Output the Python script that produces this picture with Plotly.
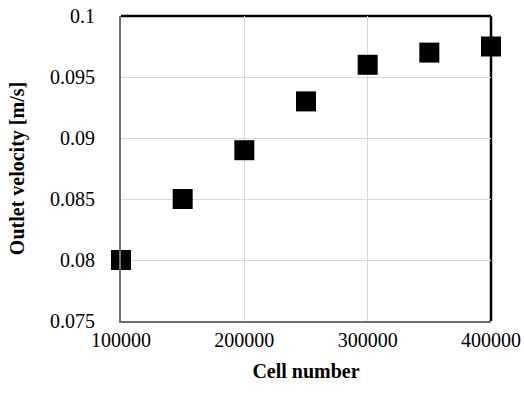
import plotly.graph_objects as go

cells = [100000, 150000, 200000, 250000, 300000, 350000, 400000]
velocity = [0.080, 0.085, 0.089, 0.093, 0.096, 0.097, 0.0975]
x_ticks = [100000, 200000, 300000, 400000]
y_ticks = [0.075, 0.08, 0.085, 0.09, 0.095, 0.1]
y_labels = ["0.075", "0.08", "0.085", "0.09", "0.095", "0.1"]

font = "Liberation Serif"

fig = go.Figure()
fig.add_trace(go.Scatter(
    x=cells, y=velocity, mode="markers",
    marker=dict(symbol="square", size=20, color="black"),
    cliponaxis=False, showlegend=False,
))

fig.update_layout(
    width=524, height=403,
    margin=dict(l=121, r=33, t=16, b=82),
    paper_bgcolor="white", plot_bgcolor="white",
    font=dict(family=font, size=20, color="black"),
    xaxis=dict(
        range=[100000, 400000], tickvals=x_ticks, ticktext=[str(v) for v in x_ticks],
        showgrid=True, gridcolor="#d9d9d9", gridwidth=1,
        showline=True, linecolor="#6e6e6e", linewidth=2,
        zeroline=False, ticks="", ticklen=0, ticklabelstandoff=0,
        automargin=False,
        tickfont=dict(family=font, size=20, color="black"),
        title=dict(text="<b>Cell number</b>", font=dict(family=font, size=20, color="black"), standoff=14),
    ),
    yaxis=dict(
        range=[0.075, 0.1], tickvals=y_ticks, ticktext=y_labels,
        showgrid=True, gridcolor="#d9d9d9", gridwidth=1,
        showline=True, linecolor="#6e6e6e", linewidth=2,
        zeroline=False, ticks="", ticklen=0, ticklabelstandoff=20,
        automargin=False,
        tickfont=dict(family=font, size=20, color="black"),
        title=dict(text="<b>Outlet velocity [m/s]</b>", font=dict(family=font, size=20, color="black"), standoff=20),
    ),
    shapes=[
        dict(type="line", xref="x domain", yref="y domain", x0=0, x1=1, y0=1, y1=1,
             line=dict(color="black", width=2.5), layer="below"),
        dict(type="line", xref="x domain", yref="y domain", x0=1, x1=1, y0=0, y1=1,
             line=dict(color="black", width=2.5), layer="below"),
    ],
)

fig.write_html("out.html")
